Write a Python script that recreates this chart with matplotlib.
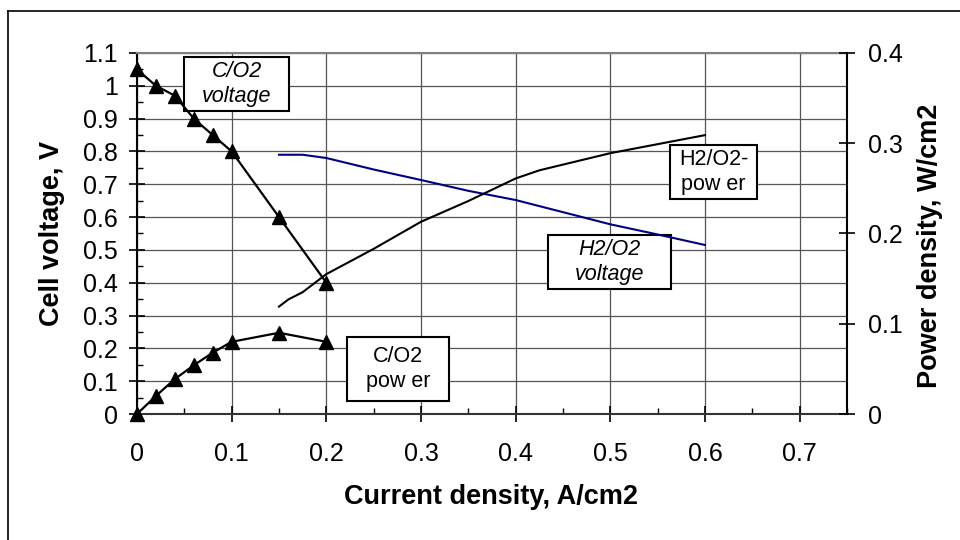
import matplotlib
matplotlib.use("Agg")
import matplotlib.pyplot as plt
from matplotlib.patches import Rectangle
from matplotlib.lines import Line2D
from matplotlib.ticker import MultipleLocator, FuncFormatter

plt.rcParams['font.family'] = ['Liberation Sans', 'DejaVu Sans']

# C/O2 cell: measured points
co2_current = [0, 0.02, 0.04, 0.06, 0.08, 0.10, 0.15, 0.20]
co2_voltage = [1.05, 1.00, 0.97, 0.90, 0.85, 0.80, 0.60, 0.40]
co2_power = [0, 0.020, 0.0388, 0.054, 0.068, 0.080, 0.090, 0.080]

# H2/O2 cell: polarisation and power curves
h2_current_v = [0.15, 0.175, 0.20, 0.25, 0.30, 0.35, 0.40, 0.45, 0.50, 0.55, 0.60]
h2_voltage = [0.79, 0.79, 0.78, 0.745, 0.713, 0.68, 0.652, 0.615, 0.578, 0.547, 0.515]
h2_current_p = [0.15, 0.16, 0.175, 0.20, 0.25, 0.30, 0.35, 0.40, 0.425, 0.50, 0.60]
h2_power = [0.119, 0.127, 0.135, 0.155, 0.183, 0.213, 0.236, 0.261, 0.270, 0.289, 0.309]

x_ticks = [0, 0.1, 0.2, 0.3, 0.4, 0.5, 0.6, 0.7]

W, H = 960, 540
fig = plt.figure(figsize=(W / 100, H / 100), dpi=100)

# plot area in pixel units
L, R, T, B = 137, 847, 53, 414
ax = fig.add_axes([L / W, 1 - B / H, (R - L) / W, (B - T) / H])
ax2 = ax.twinx()

fmt = FuncFormatter(lambda v, p: f"{v:g}")
TICK_FS = 18
LABEL_FS = 19.5
NOTE_FS = 15.5
GRID = '#555555'

# primary axis: voltage
ax.set_xlim(0, 0.75)
ax.set_ylim(0, 1.1)
ax.set_xticks(x_ticks)
ax.xaxis.set_minor_locator(MultipleLocator(0.05))
ax.yaxis.set_major_locator(MultipleLocator(0.1))
ax.yaxis.set_minor_locator(MultipleLocator(0.05))
ax.xaxis.set_major_formatter(fmt)
ax.yaxis.set_major_formatter(fmt)
ax.set_axisbelow(True)
ax.grid(which='major', color=GRID, linewidth=0.9)
ax.tick_params(axis='y', which='major', direction='inout', length=12, width=1.2,
               labelsize=TICK_FS, pad=8)
ax.tick_params(axis='y', which='minor', direction='in', length=4.5, width=1.0)
ax.tick_params(axis='x', which='major', direction='inout', length=11, width=1.2,
               labelsize=TICK_FS, pad=15)
ax.tick_params(axis='x', which='minor', direction='in', length=4.5, width=1.0)
ax.spines['right'].set_visible(False)
ax.spines['top'].set_color('#808080')
ax.spines['top'].set_linewidth(1.5)
ax.spines['left'].set_linewidth(1.5)
ax.spines['bottom'].set_color('#333333')
ax.spines['bottom'].set_linewidth(1.5)

# secondary axis: power density
ax2.set_ylim(0, 0.4)
ax2.yaxis.set_major_locator(MultipleLocator(0.1))
ax2.yaxis.set_major_formatter(fmt)
ax2.tick_params(axis='y', which='major', direction='inout', length=12, width=1.2,
                labelsize=TICK_FS, pad=9)
for side in ('left', 'top', 'bottom'):
    ax2.spines[side].set_visible(False)
ax2.spines['right'].set_linewidth(1.5)

# curves
ax.plot(co2_current, co2_voltage, color='black', lw=1.6, marker='^', ms=9.5,
        zorder=3, clip_on=False)
ax.plot(h2_current_v, h2_voltage, color='#000080', lw=1.5, zorder=3)
ax2.plot(co2_current, co2_power, color='black', lw=1.6, marker='^', ms=9.5,
         zorder=3, clip_on=False)
ax2.plot(h2_current_p, h2_power, color='black', lw=1.5, zorder=3)

# curve labels in framed boxes (pixel coordinates)
def note(x0, y0, x1, y1, text, italic):
    ax.add_patch(Rectangle((x0 / W, 1 - y1 / H), (x1 - x0) / W, (y1 - y0) / H,
                           transform=fig.transFigure, facecolor='white',
                           edgecolor='black', lw=1.5, zorder=1.5, clip_on=False))
    ax.text((x0 + x1) / 2 / W, 1 - (y0 + y1) / 2 / H, text, transform=fig.transFigure,
            ha='center', va='center', fontsize=NOTE_FS, linespacing=1.3,
            style='italic' if italic else 'normal', zorder=1.6)

note(184, 57, 289, 111, "C/O2\nvoltage", True)
note(347, 337, 449, 401, "C/O2\npow er", False)
note(670, 145, 757, 199, "H2/O2-\npow er", False)
note(548, 235, 671, 289, "H2/O2\nvoltage", True)

# axis titles
fig.text(491 / W, 1 - 497 / H, "Current density, A/cm2", ha='center', va='center',
         fontsize=LABEL_FS, fontweight='bold')
fig.text(52 / W, 1 - 233 / H, "Cell voltage, V", ha='center', va='center',
         rotation=90, fontsize=LABEL_FS, fontweight='bold')
fig.text(930 / W, 1 - 246 / H, "Power density, W/cm2", ha='center', va='center',
         rotation=90, fontsize=LABEL_FS, fontweight='bold')

# chart frame
fig.add_artist(Line2D([8 / W, 1.0], [1 - 11 / H, 1 - 11 / H], transform=fig.transFigure,
                      color='black', lw=1.2))
fig.add_artist(Line2D([8 / W, 8 / W], [0.0, 1 - 11 / H], transform=fig.transFigure,
                      color='black', lw=1.2))

fig.savefig("out.png", dpi=100)
